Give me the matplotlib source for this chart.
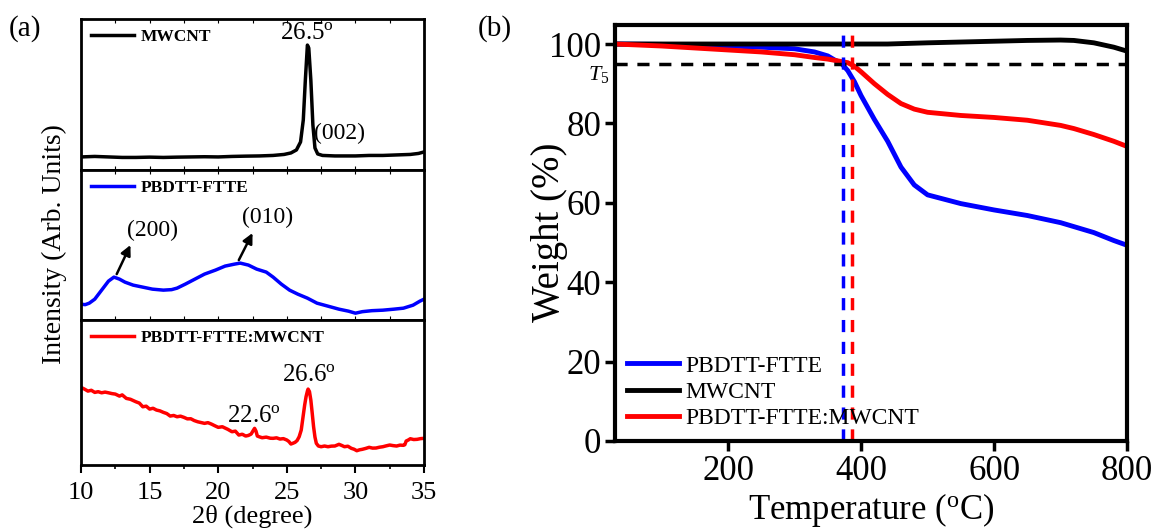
import numpy as np
import matplotlib
matplotlib.use("Agg")
import matplotlib.pyplot as plt
from matplotlib.ticker import MultipleLocator

plt.rcParams['font.family'] = ['Liberation Serif', 'DejaVu Serif']
plt.rcParams['mathtext.fontset'] = 'custom'
plt.rcParams['mathtext.rm'] = 'Liberation Serif'
plt.rcParams['mathtext.it'] = 'Liberation Serif:italic'

# ---- XRD (2theta, intensity in arb. units) ----
tt_cnt = [10, 11, 12, 13, 14, 15, 16, 17, 18, 19, 20, 21, 22, 23, 24, 24.8, 25.3,
          25.7, 26.0, 26.2, 26.35, 26.5, 26.6, 26.75, 26.9, 27.05, 27.25, 27.6,
          28.5, 30, 31, 32, 33, 34, 34.6, 35]
i_cnt = [13, 13.5, 13, 12.5, 12.5, 12.8, 12.5, 12.8, 13, 13.2, 13, 13.5, 13.8, 14,
         14.5, 15.5, 17, 20, 28, 50, 90, 125, 122, 90, 45, 22, 16, 14.5, 14, 14,
         14.5, 14.5, 15, 15.5, 16.5, 18]

tt_pol = [10, 10.3, 10.6, 11, 11.5, 12, 12.4, 12.8, 13.2, 13.8, 14.5, 15.2, 16, 16.6,
          17, 17.6, 18.3, 19, 19.8, 20.5, 21.2, 21.6, 22.2, 22.8, 23.5, 24, 24.6,
          25.2, 25.8, 26.5, 27.2, 28, 28.8, 29.5, 30, 30.5, 31.2, 32, 32.8, 33.5,
          34.2, 34.7, 35]
i_pol = [16, 15.5, 17, 21, 30, 39, 43, 41, 38, 35, 33, 31, 30, 30.5, 32, 36, 41, 46,
         50, 54, 56, 57, 55, 51, 48, 43, 36, 30, 26, 22, 17, 14, 11, 9, 7, 8.5, 9.5,
         10, 11, 12, 15, 19, 21]

tt_mix = [10, 10.25, 10.5, 10.75, 11, 11.25, 11.5, 11.75, 12, 12.25, 12.5, 12.8,
          13.0, 13.3, 13.6, 14, 14.25, 14.5, 14.75, 15, 15.25, 15.5, 15.75, 16, 16.25,
          16.5, 16.75, 17, 17.25, 17.5, 17.75, 18, 18.25, 18.5, 18.75, 19, 19.25,
          19.5, 19.75, 20, 20.3, 20.5, 20.7, 21, 21.25, 21.5, 21.75, 22, 22.2, 22.4,
          22.55, 22.65, 22.75, 22.85, 23.0, 23.2, 23.5, 23.8, 24, 24.25, 24.5, 24.75,
          25, 25.15, 25.3, 25.45, 25.6, 25.75, 25.9, 26.05, 26.15, 26.3, 26.4, 26.5,
          26.55, 26.65, 26.75, 26.85, 26.95, 27.05, 27.15, 27.3, 27.5, 27.75, 28,
          28.25, 28.5, 28.8, 29.0, 29.2, 29.45, 29.7, 29.9, 30.1, 30.3, 30.5, 30.75,
          31, 31.25, 31.5, 31.75, 32, 32.25, 32.5, 32.75, 33, 33.25, 33.5, 33.6,
          33.7, 33.85, 34, 34.25, 34.5, 34.75, 35]
i_mix = [77.7, 76.0, 74.0, 74.8, 72.7, 73.4, 72.3, 73.0, 72.3, 71.5, 71.0, 69.0,
         70.2, 66.7, 65.8, 63.3, 62.0, 58.3, 58.9, 56.0, 56.8, 55.0, 54.2, 52.7,
         51.5, 49.0, 49.6, 48.3, 48.9, 47.7, 46.2, 46.3, 44.5, 43.3, 42.5, 41.7,
         42.4, 41.0, 39.3, 37.7, 38.3, 37.0, 35.7, 33.3, 33.9, 30.0, 30.8, 29.0,
         29.6, 31.0, 34.5, 36.7, 34.0, 29.0, 28.2, 27.3, 27.9, 26.8, 26.7, 27.2,
         26.0, 26.4, 25.0, 23.5, 21.0, 21.8, 22.7, 24.5, 28.3, 35.0, 45.0, 60.0,
         68.3, 74.0, 76.0, 73.5, 65.0, 52.0, 38.3, 28.0, 21.7, 19.0, 18.3, 19.0,
         18.3, 18.9, 19.0, 20.7, 19.6, 18.3, 18.8, 16.7, 15.8, 14.3, 15.2, 15.7,
         16.6, 17.7, 16.9, 17.0, 17.8, 18.3, 19.2, 20.0, 19.4, 19.0, 19.9, 19.7,
         20.3, 24.0, 25.0, 26.3, 25.5, 25.7, 26.4, 26.7]

# ---- TGA (temperature in C, weight in %) ----
temp = [30, 100, 200, 250, 300, 330, 350, 360, 370, 380, 390, 400, 420, 440, 460,
        480, 500, 550, 600, 650, 700, 720, 750, 780, 800]
w_pol = [100, 99.9, 99.5, 99.2, 98.8, 98.0, 97.0, 96.0, 95.2, 93.3, 90.5, 87.0, 81.0,
         75.5, 69.0, 64.5, 62.0, 59.8, 58.2, 56.8, 55.0, 54.0, 52.5, 50.5, 49.3]
w_cnt = [100, 100, 100, 100, 100, 100, 100, 100, 100, 100, 100, 100, 100, 100, 100.1,
         100.2, 100.3, 100.5, 100.7, 100.9, 101, 100.9, 100.3, 99.2, 98.2]
w_mix = [100, 99.5, 98.5, 98.0, 97.3, 96.6, 96.2, 95.9, 95.6, 95.3, 94.4, 93.0, 90.0,
         87.3, 85.0, 83.6, 82.8, 82.0, 81.5, 80.8, 79.5, 78.7, 77.2, 75.5, 74.2]
t5_pol = 373
t5_mix = 386
t5_level = 95

fig = plt.figure(figsize=(11.56, 5.31), dpi=100)

# (a) stacked XRD panels
panels = [
    (0.680, 0.284, tt_cnt, i_cnt, 'black', 'MWCNT', 151),
    (0.397, 0.283, tt_pol, i_pol, 'blue', 'PBDTT-FTTE', 150),
    (0.1243, 0.2727, tt_mix, i_mix, 'red', 'PBDTT-FTTE:MWCNT', 145),
]
xrd_axes = []
for bottom, h, x, y, c, lab, ytop in panels:
    ax = fig.add_axes([0.0701, bottom, 0.2967, h])
    ax.plot(x, y, color=c, lw=2.5, label=lab)
    ax.set_xlim(10, 35)
    ax.set_ylim(0, ytop)
    ax.set_yticks([])
    ax.xaxis.set_major_locator(MultipleLocator(5))
    ax.xaxis.set_minor_locator(MultipleLocator(2.5))
    ax.tick_params(axis='x', which='both', direction='in', top=True, labelbottom=False,
                   length=3, width=0.8)
    for s in ax.spines.values():
        s.set_linewidth(2)
    ax.legend(loc='upper left', frameon=False, handlelength=2.5, handletextpad=0.4,
              borderaxespad=0.15, prop={'family': 'Liberation Serif',
                                        'weight': 'bold', 'size': 12.5})
    xrd_axes.append(ax)

ax1, ax2, ax3 = xrd_axes
ax3.tick_params(axis='x', which='major', direction='out', top=False, labelbottom=True,
                length=6, width=1.5, labelsize=19, pad=6)
ax3.tick_params(axis='x', which='minor', direction='out', top=False, length=3,
                width=1.2)
ax3.set_xlabel('2θ (degree)', fontsize=19, labelpad=1)

ax1.text(26.5, 126, '26.5$^{\\rm o}$', fontsize=18, ha='center', va='bottom')
ax1.text(26.95, 26, '(002)', fontsize=17, ha='left', va='bottom')

arrow_kw = dict(arrowstyle='-|>', color='black', lw=1.8, mutation_scale=15,
                shrinkA=0, shrinkB=0)
ax2.annotate('', xy=(13.6, 75), xytext=(12.6, 46), arrowprops=arrow_kw)
ax2.text(15.2, 90, '(200)', fontsize=17, ha='center', va='center')
ax2.annotate('', xy=(22.5, 87), xytext=(21.5, 60), arrowprops=arrow_kw)
ax2.text(23.6, 103, '(010)', fontsize=17, ha='center', va='center')

ax3.text(26.6, 79, '26.6$^{\\rm o}$', fontsize=18, ha='center', va='bottom')
ax3.text(22.6, 38, '22.6$^{\\rm o}$', fontsize=18, ha='center', va='bottom')

fig.text(0.047, 0.54, 'Intensity (Arb. Units)', rotation=90, fontsize=20,
         ha='center', va='center')
fig.text(0.022, 0.947, '(a)', fontsize=21, ha='center', va='center')

# (b) TGA
axb = fig.add_axes([0.532, 0.1695, 0.443, 0.7835])
axb.plot(temp, w_pol, color='blue', lw=3.5, label='PBDTT-FTTE')
axb.plot(temp, w_cnt, color='black', lw=3.5, label='MWCNT')
axb.plot(temp, w_mix, color='red', lw=3.5, label='PBDTT-FTTE:MWCNT')
axb.axhline(t5_level, color='black', lw=2.5, ls=(0, (3.5, 2.8)))
axb.axvline(t5_pol, color='blue', lw=2.5, ls=(0, (3.5, 2.8)))
axb.axvline(t5_mix, color='red', lw=2.5, ls=(0, (3.5, 2.8)))
axb.set_xlim(30, 800)
axb.set_ylim(0, 104.8)
axb.set_xticks([200, 400, 600, 800])
axb.set_yticks([0, 20, 40, 60, 80, 100])
axb.tick_params(axis='both', direction='out', length=7, width=2.5, labelsize=25, pad=3)
for s in axb.spines.values():
    s.set_linewidth(3)
axb.set_xlabel('Temperature ($^{\\rm o}$C)', fontsize=25, labelpad=2)
fig.text(550 / 1156, 1 - 232 / 531, 'Weight (%)', rotation=90, fontsize=28,
         ha='center', va='center')
axb.text(22, 92.3, '$T_5$', fontsize=16, ha='right', va='center', clip_on=False)
axb.legend(loc='lower left', frameon=False, fontsize=17, handlelength=2.2,
           handletextpad=0.3, labelspacing=0.2, borderaxespad=0.1,
           bbox_to_anchor=(0.0, 0.0))
fig.text(0.428, 0.947, '(b)', fontsize=21, ha='center', va='center')

fig.savefig('out.png', dpi=100)
